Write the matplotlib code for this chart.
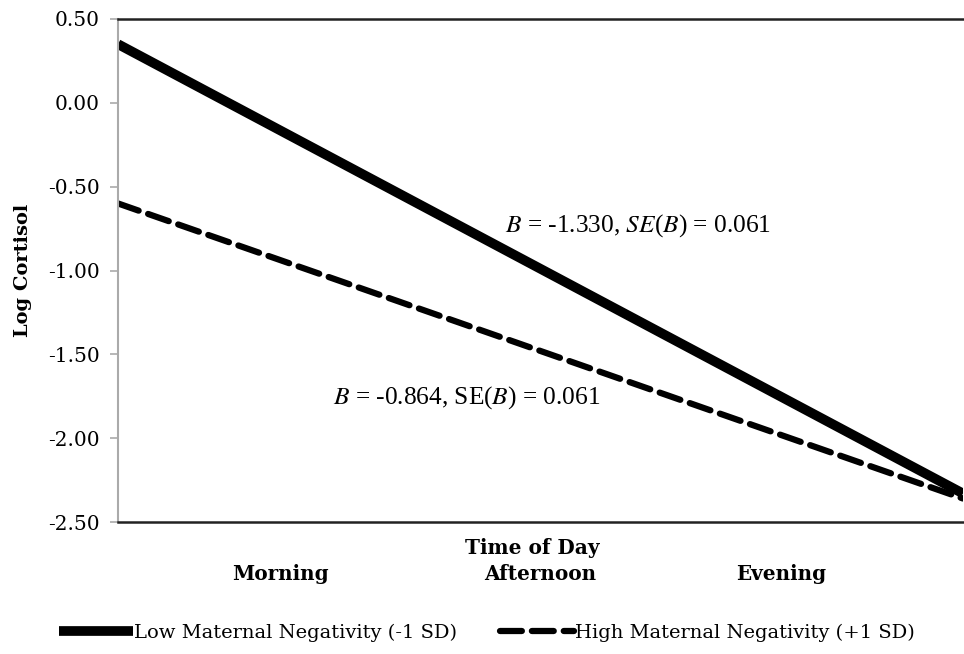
import numpy as np
import matplotlib.pyplot as plt

# time coded -1 (morning) to +1 (evening)
time_x = [-1, 1]
low_neg = [0.35, -2.33]
high_neg = [-0.60, -2.36]
yticks = [0.50, 0.00, -0.50, -1.00, -1.50, -2.00, -2.50]
categories = ['Morning', 'Afternoon', 'Evening']
cat_pos = [-0.615, 0.0, 0.57]

fig = plt.figure(figsize=(9.64, 6.54), dpi=100)
ax = fig.add_axes([118/964, 1-522/654, (963-118)/964, (522-19)/654])

ax.plot(time_x, low_neg, color='black', lw=7, solid_capstyle='butt',
        label='Low Maternal Negativity (-1 SD)')
ax.plot(time_x, high_neg, color='black', lw=4.5, linestyle=(0, (3.5, 1.6)),
        dash_capstyle='round', label='High Maternal Negativity (+1 SD)')

ax.set_xlim(-1, 1)
ax.set_ylim(-2.5, 0.5)
ax.set_yticks(yticks)
ax.set_yticklabels(['%.2f' % v for v in yticks], family='DejaVu Serif', fontsize=14.5)
ax.set_xticks([])
ax.tick_params(axis='y', direction='out', length=6, width=1.2, color='#aaaaaa', pad=7)

ax.spines['right'].set_visible(False)
ax.spines['left'].set_color('#aaaaaa')
ax.spines['left'].set_linewidth(1.5)
ax.spines['top'].set_color('#222222')
ax.spines['top'].set_linewidth(1.8)
ax.spines['bottom'].set_color('#222222')
ax.spines['bottom'].set_linewidth(1.8)

ax.set_ylabel('Log Cortisol', family='DejaVu Serif', fontweight='bold', fontsize=14, labelpad=12)

for c, p in zip(categories, cat_pos):
    ax.text(p, -0.104, c, transform=ax.get_xaxis_transform(), ha='center', va='center',
            family='DejaVu Serif', fontweight='bold', fontsize=14.4)
ax.text(-0.02, -0.052, 'Time of Day', transform=ax.get_xaxis_transform(), ha='center', va='center',
        family='DejaVu Serif', fontweight='bold', fontsize=14.4)

ax.text(-0.085, -0.73, r'$B$ = -1.330, $SE$($B$) = 0.061', family='Liberation Serif', fontsize=18.3,
        ha='left', va='center', math_fontfamily='stix')
ax.text(-0.49, -1.76, r'$B$ = -0.864, SE($B$) = 0.061', family='Liberation Serif', fontsize=18.3,
        ha='left', va='center', math_fontfamily='stix')

leg = fig.legend(loc='center', bbox_to_anchor=(0.505, 1-633/654), ncol=2, frameon=False,
                 prop={'family': 'DejaVu Serif', 'size': 14}, handlelength=3.8,
                 handletextpad=0.05, columnspacing=2.2)

fig.savefig('out.png', dpi=100)
